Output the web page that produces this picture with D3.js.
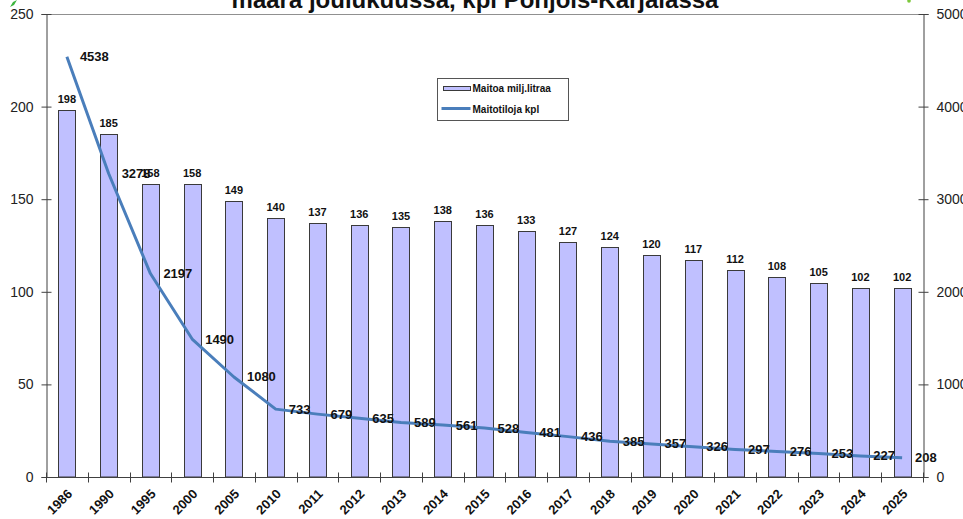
<!DOCTYPE html>
<html lang="fi">
<head>
    <meta charset="UTF-8">
    <title>Maitotilat Pohjois-Karjalassa</title>
    <style>
        body {
            margin: 0;
            background: #fff;
            font-family: "Liberation Sans", Arial, sans-serif;
        }
        svg { display: block; }
    </style>
</head>
<body>
<script src="https://cdn.jsdelivr.net/npm/d3@7"></script>
<script>

    var years = ['1986', '1990', '1995', '2000', '2005', '2010', '2011', '2012', '2013', '2014',
        '2015', '2016', '2017', '2018', '2019', '2020', '2021', '2022', '2023', '2024', '2025'];
    var milk = [198, 185, 158, 158, 149, 140, 137, 136, 135, 138,
        136, 133, 127, 124, 120, 117, 112, 108, 105, 102, 102];
    var farms = [4538, 3278, 2197, 1490, 1080, 733, 679, 635, 589, 561,
        528, 481, 436, 385, 357, 326, 297, 276, 253, 227, 208];
    var leftTicks = [0, 50, 100, 150, 200, 250];
    var rightTicks = [0, 1000, 2000, 3000, 4000, 5000];
    var seriesNames = ['Maitoa milj.litraa', 'Maitotiloja kpl'];
    var title = 'määrä joulukuussa, kpl Pohjois-Karjalassa';

    var width = 963,
        height = 519;
    var m = {top: 14, right: 40, bottom: 42, left: 46};

    var barFill = '#c0c0ff',
        barStroke = '#3a3a3a',
        lineColor = '#4a7ebb',
        axisColor = '#404040';

    var svg = d3.select('body').append('svg')
        .attr('width', width)
        .attr('height', height);

    var x = d3.scaleBand()
        .domain(years)
        .range([m.left, width - m.right])
        .paddingInner(0.59)
        .paddingOuter(0.295);

    var y = d3.scaleLinear()
        .domain([0, 250])
        .range([height - m.bottom, m.top]);

    var y2 = d3.scaleLinear()
        .domain([0, 5000])
        .range([height - m.bottom, m.top]);

    // title (upper line is outside the picture)
    svg.append('text')
        .attr('x', 475)
        .attr('y', 8)
        .attr('text-anchor', 'middle')
        .attr('font-size', 24)
        .attr('font-weight', 'bold')
        .attr('fill', '#111')
        .text(title);

    // bits of the logo at the top corners
    svg.append('path')
        .attr('d', 'M10,7 L13,2 L17,0 L14,5 Z')
        .attr('fill', '#3cb43c');
    svg.append('circle')
        .attr('cx', 909)
        .attr('cy', 1)
        .attr('r', 1.8)
        .attr('fill', '#7cc83c');

    // top border of plot area
    svg.append('line')
        .attr('x1', m.left)
        .attr('x2', width - m.right)
        .attr('y1', m.top + 0.5)
        .attr('y2', m.top + 0.5)
        .attr('stroke', '#909090')
        .attr('stroke-width', 1);

    // bars
    svg.selectAll('.bar')
        .data(milk)
        .enter()
        .append('rect')
        .attr('class', 'bar')
        .attr('x', (d, i) => Math.round(x(years[i])) + 0.5)
        .attr('y', d => Math.round(y(d)) + 0.5)
        .attr('width', Math.round(x.bandwidth()))
        .attr('height', d => y(0) - Math.round(y(d)) - 0.5)
        .attr('fill', barFill)
        .attr('stroke', barStroke)
        .attr('stroke-width', 1);

    svg.selectAll('.barlabel')
        .data(milk)
        .enter()
        .append('text')
        .attr('class', 'barlabel')
        .attr('x', (d, i) => x(years[i]) + x.bandwidth() / 2)
        .attr('y', d => y(d) - 7)
        .attr('text-anchor', 'middle')
        .attr('font-size', 11)
        .attr('font-weight', 'bold')
        .attr('fill', '#111')
        .text(d => d);

    // line
    var line = d3.line()
        .x((d, i) => x(years[i]) + x.bandwidth() / 2)
        .y(d => y2(d));

    svg.append('path')
        .datum(farms)
        .attr('fill', 'none')
        .attr('stroke', lineColor)
        .attr('stroke-width', 3)
        .attr('stroke-linejoin', 'round')
        .attr('d', line);

    svg.selectAll('.linelabel')
        .data(farms)
        .enter()
        .append('text')
        .attr('class', 'linelabel')
        .attr('x', (d, i) => x(years[i]) + x.bandwidth() / 2 + 13)
        .attr('y', d => y2(d))
        .attr('dominant-baseline', 'central')
        .attr('font-size', 13)
        .attr('font-weight', 'bold')
        .attr('fill', '#111')
        .text(d => d);

    // axes
    var gl = svg.append('g')
        .attr('transform', 'translate(' + (m.left + 0.5) + ',0)')
        .call(d3.axisLeft(y).tickValues(leftTicks).tickSize(5).tickPadding(8));

    var gr = svg.append('g')
        .attr('transform', 'translate(' + (width - m.right + 0.5) + ',0)')
        .call(d3.axisRight(y2).tickValues(rightTicks).tickFormat(d3.format('d'))
            .tickSize(5).tickPadding(8));

    var bounds = years.map(d => x(d) - x.step() * x.paddingInner() / 2);
    bounds.push(width - m.right);

    var gx = svg.append('g')
        .attr('transform', 'translate(0,' + (height - m.bottom + 0.5) + ')');

    gx.append('line')
        .attr('x1', m.left)
        .attr('x2', width - m.right)
        .attr('stroke', axisColor);

    gx.selectAll('.xtick')
        .data(bounds)
        .enter()
        .append('line')
        .attr('x1', d => Math.round(d) + 0.5)
        .attr('x2', d => Math.round(d) + 0.5)
        .attr('y1', -5)
        .attr('y2', 5)
        .attr('stroke', axisColor);

    gx.selectAll('.xlabel')
        .data(years)
        .enter()
        .append('text')
        .attr('transform', d => 'translate(' + (x(d) + x.bandwidth() / 2 + 3) + ',14) rotate(-45)')
        .attr('text-anchor', 'end')
        .attr('dominant-baseline', 'central')
        .attr('font-size', 13)
        .attr('font-weight', 'bold')
        .attr('fill', '#111')
        .text(d => d);

    [gl, gr].forEach(function (g) {
        g.select('.domain').attr('stroke', axisColor);
        g.selectAll('.tick line').attr('stroke', axisColor);
        g.selectAll('.tick text')
            .attr('font-family', '"Liberation Sans", Arial, sans-serif')
            .attr('font-size', 14)
            .attr('fill', '#222');
    });
    // ticks cross the axis line
    gl.selectAll('.tick line').attr('x1', 5).attr('x2', -5);
    gr.selectAll('.tick line').attr('x1', -5).attr('x2', 5);

    // legend
    var lg = svg.append('g')
        .attr('transform', 'translate(437.5,78.5)');

    lg.append('rect')
        .attr('width', 131)
        .attr('height', 42)
        .attr('fill', '#fff')
        .attr('stroke', '#555');

    lg.append('rect')
        .attr('x', 6)
        .attr('y', 8)
        .attr('width', 27)
        .attr('height', 4)
        .attr('fill', barFill)
        .attr('stroke', barStroke);

    lg.append('line')
        .attr('x1', 4)
        .attr('x2', 33)
        .attr('y1', 30)
        .attr('y2', 30)
        .attr('stroke', lineColor)
        .attr('stroke-width', 3);

    lg.selectAll('.lgtext')
        .data(seriesNames)
        .enter()
        .append('text')
        .attr('x', 35)
        .attr('y', (d, i) => 10 + i * 21)
        .attr('dominant-baseline', 'central')
        .attr('font-size', 10)
        .attr('font-weight', 'bold')
        .attr('fill', '#111')
        .text(d => d);
</script>
</body>
</html>
